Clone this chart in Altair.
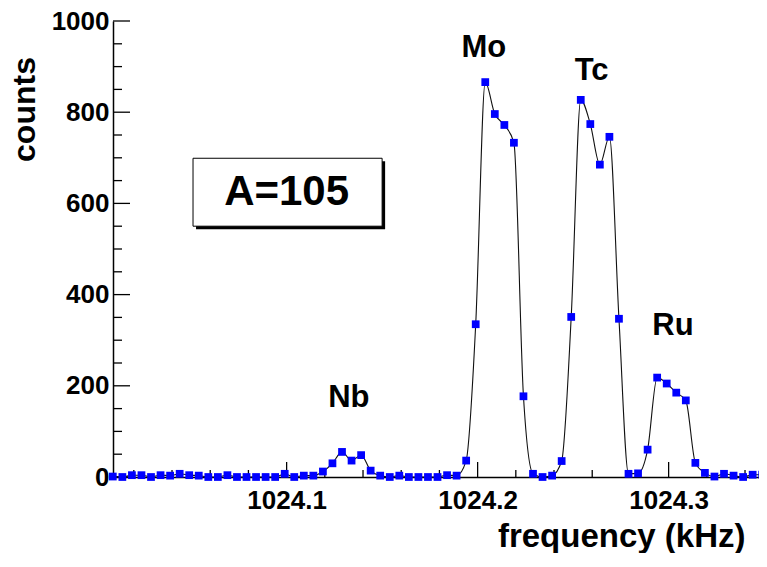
import altair as alt
import pandas as pd

# frequency bins (kHz) and counts
freq = [1024.009, 1024.014, 1024.019, 1024.024, 1024.029, 1024.034, 1024.039, 1024.044, 1024.049, 1024.054,
        1024.059, 1024.064, 1024.069, 1024.074, 1024.079, 1024.084, 1024.089, 1024.094, 1024.099, 1024.104,
        1024.109, 1024.114, 1024.119, 1024.124, 1024.129, 1024.134, 1024.139, 1024.144, 1024.149, 1024.154,
        1024.159, 1024.164, 1024.169, 1024.174, 1024.179, 1024.184, 1024.189, 1024.194, 1024.199, 1024.204,
        1024.209, 1024.214, 1024.219, 1024.224, 1024.229, 1024.234, 1024.239, 1024.244, 1024.249, 1024.254,
        1024.259, 1024.264, 1024.269, 1024.274, 1024.279, 1024.284, 1024.289, 1024.294, 1024.299, 1024.304,
        1024.309, 1024.314, 1024.319, 1024.324, 1024.329, 1024.334, 1024.339, 1024.344, 1024.349]
counts = [1, 0, 4, 4, 0, 4, 3, 7, 4, 3,
          0, 0, 4, 0, 0, 0, 0, 0, 7, 0,
          3, 3, 12, 30, 55, 36, 48, 14, 3, 0,
          3, 0, 0, 0, 0, 4, 3, 36, 335, 866,
          796, 772, 733, 177, 7, 0, 3, 35, 351, 827,
          774, 685, 746, 347, 7, 8, 60, 218, 205, 185,
          168, 31, 9, 1, 7, 3, 0, 5, 5]

# peak labels
peak_names = ["Nb", "Mo", "Tc", "Ru"]
peak_x = [1024.1326, 1024.2033, 1024.2597, 1024.3023]
peak_y = [153, 922, 870, 312]

# tick values
x_major = [1024.1, 1024.2, 1024.3]
x_minor = [1024.02, 1024.04, 1024.06, 1024.08, 1024.12, 1024.14, 1024.16, 1024.18,
           1024.22, 1024.24, 1024.26, 1024.28, 1024.32, 1024.34]
y_major = [0, 200, 400, 600, 800, 1000]
y_minor = [50, 100, 150, 250, 300, 350, 450, 500, 550, 650, 700, 750, 850, 900, 950]

# text box "A=105"
box_label = ["A=105"]
box_x, box_x2 = [1024.051], [1024.150]
box_y, box_y2 = [550], [699]
box_text_x, box_text_y = [1024.1], [596]

FONT = "Liberation Sans"
W, H = 646, 456

df = pd.DataFrame({"f": freq, "c": counts})
peaks = pd.DataFrame({"f": peak_x, "c": peak_y, "name": peak_names})
box = pd.DataFrame({"f": box_x, "f2": box_x2, "c": box_y, "c2": box_y2, "label": box_label})
box_t = pd.DataFrame({"f": box_text_x, "c": box_text_y, "label": box_label})

xs = alt.Scale(domain=[1024.0091, 1024.0091 + W / 1910.0], nice=False, zero=False)
ys = alt.Scale(domain=[0, 1000], nice=False, zero=False)

x_axis = alt.Axis(values=x_major, format=".1f", title="frequency (kHz)", grid=False,
                  ticks=False, tickSize=0, labelPadding=10, labelFont=FONT, labelFontWeight="bold",
                  labelFontSize=26, labelColor="black", domainColor="black", domainWidth=1.5,
                  titleFont=FONT, titleFontWeight="bold", titleFontSize=33, titleColor="black",
                  titleX=632, titleY=69, titleAlign="right", titleBaseline="alphabetic",
                  labelFlush=False, labelOverlap=False)
y_axis = alt.Axis(values=y_major, format="d", title="counts", grid=False,
                  ticks=False, tickSize=0, labelPadding=4, labelFont=FONT, labelFontWeight="bold",
                  labelFontSize=26, labelColor="black", domainColor="black", domainWidth=1.5,
                  titleFont=FONT, titleFontWeight="bold", titleFontSize=32, titleColor="black",
                  titleX=-79, titleY=88, titleAlign="center", titleBaseline="alphabetic",
                  titleAngle=270, labelFlush=False, labelOverlap=False)

X = lambda field: alt.X(field, type="quantitative", scale=xs, axis=x_axis)
Y = lambda field: alt.Y(field, type="quantitative", scale=ys, axis=y_axis)

line = alt.Chart(df).mark_line(color="#111111", strokeWidth=1.1, interpolate="monotone").encode(
    x=X("f"), y=Y("c"))
points = alt.Chart(df).mark_square(color="#0000ff", size=60, opacity=1).encode(
    x=X("f"), y=Y("c"))

def xticks(vals, length):
    return alt.Chart(pd.DataFrame({"f": vals})).mark_rule(color="black", strokeWidth=1.3).encode(
        x=X("f"), y=alt.value(H), y2=alt.value(H - length))

def yticks(vals, length):
    return alt.Chart(pd.DataFrame({"c": vals})).mark_rule(color="black", strokeWidth=1.3).encode(
        y=Y("c"), x=alt.value(0), x2=alt.value(length))

shadow = alt.Chart(box).mark_rect(color="black", xOffset=3, x2Offset=3, yOffset=3, y2Offset=3).encode(
    x=X("f"), x2="f2:Q", y=Y("c"), y2="c2:Q")
frame = alt.Chart(box).mark_rect(fill="white", stroke="black", strokeWidth=1).encode(
    x=X("f"), x2="f2:Q", y=Y("c"), y2="c2:Q")
box_txt = alt.Chart(box_t).mark_text(font=FONT, fontWeight="bold", fontSize=42, color="black",
                                     align="center", baseline="alphabetic").encode(
    x=X("f"), y=Y("c"), text="label:N")

peak_txt = alt.Chart(peaks).mark_text(font=FONT, fontWeight="bold", fontSize=31, color="black",
                                      align="center", baseline="alphabetic").encode(
    x=X("f"), y=Y("c"), text="name:N")

chart = alt.layer(
    line, shadow, frame, box_txt, peak_txt,
    xticks(x_major, 15), xticks(x_minor, 7),
    yticks(y_major, 17), yticks(y_minor, 9),
    points,
).properties(
    width=W, height=H,
    padding={"left": 105, "top": 13, "right": 0, "bottom": 76},
    autosize=alt.AutoSizeParams(type="none"),
    background="white",
).configure_view(stroke=None)

chart.save("out.html", embed_options={"renderer": "svg", "actions": False})
